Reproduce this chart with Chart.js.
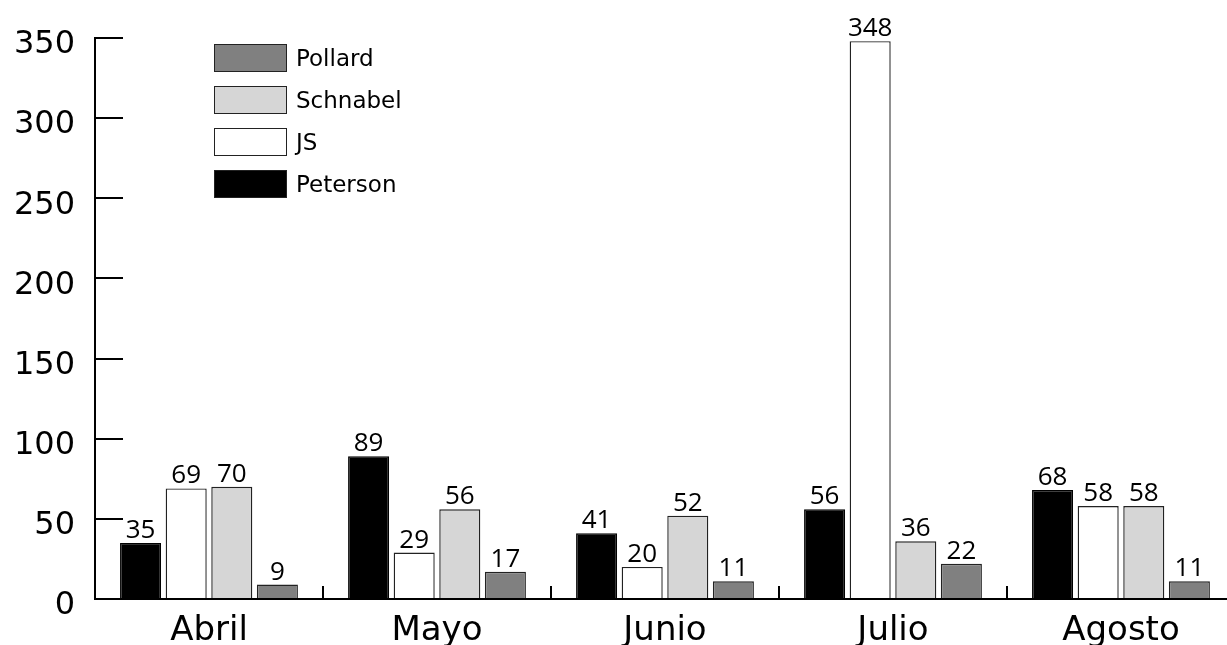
<!DOCTYPE html>
<html>
<head>
<meta charset="utf-8">
<script src="https://cdn.jsdelivr.net/npm/chart.js@4.4.0/dist/chart.umd.min.js"></script>
<style>
  html, body { margin: 0; padding: 0; background: #fff; }
  #wrap { position: relative; width: 1227px; height: 645px; }
  #legend { position: absolute; left: 214px; top: 44px; font-family: 'DejaVu Sans', sans-serif; font-size: 23px; color: #000; }
  .item { display: flex; align-items: center; height: 28px; margin-bottom: 14px; }
  .swatch { box-sizing: border-box; width: 73px; height: 28px; border: 1px solid #222; margin-right: 9px; }
</style>
</head>
<body>
<div id="wrap">
  <canvas id="chart"></canvas>
  <div id="legend"></div>
</div>
<script>
const categories = ['Abril', 'Mayo', 'Junio', 'Julio', 'Agosto'];
const peterson = [35, 89, 41, 56, 68];
const jsValues = [69, 29, 20, 348, 58];
const schnabel = [70, 56, 52, 36, 58];
const pollard = [9, 17, 11, 22, 11];
const yMax = 350;
const yStep = 50;

const toPoints = arr => arr.map((v, i) => ({ x: i, y: v }));

Chart.defaults.font.family = "'DejaVu Sans', sans-serif";
Chart.defaults.color = '#000';

// numbers above each bar
const valueLabels = {
    id: 'valueLabels',
    afterDatasetsDraw(chart) {
        const ctx = chart.ctx;
        ctx.save();
        ctx.font = "26px 'Open Sans'";
        ctx.fillStyle = '#000';
        ctx.textAlign = 'center';
        ctx.textBaseline = 'alphabetic';
        chart.data.datasets.forEach((ds, di) => {
            chart.getDatasetMeta(di).data.forEach((bar, i) => {
                ctx.fillText(ds.data[i].y, bar.x, bar.y - 5);
            });
        });
        ctx.restore();
    }
};

const chart = new Chart(document.getElementById('chart'), {
    type: 'bar',
    data: {
        datasets: [
            { label: 'Peterson', data: toPoints(peterson), backgroundColor: '#000', borderColor: '#000' },
            { label: 'JS', data: toPoints(jsValues), backgroundColor: '#fff', borderColor: '#222' },
            { label: 'Schnabel', data: toPoints(schnabel), backgroundColor: '#d6d6d6', borderColor: '#222' },
            { label: 'Pollard', data: toPoints(pollard), backgroundColor: '#808080', borderColor: '#222' }
        ]
    },
    options: {
        responsive: true,
        maintainAspectRatio: false,
        animation: false,
        categoryPercentage: 0.8,
        barPercentage: 0.9,
        borderWidth: 1.4,
        layout: { padding: { top: 38, right: 0, left: 0, bottom: 0 } },
        plugins: {
            legend: { display: false },
            tooltip: { enabled: false }
        },
        scales: {
            x: {
                type: 'linear',
                min: -0.5,
                max: 4.465,
                offset: false,
                afterBuildTicks: s => { s.ticks = categories.map((c, i) => ({ value: i })); },
                afterFit: s => { s.height = 46; s.paddingLeft = 0; s.paddingRight = 0; },
                border: { display: true, color: '#000', width: 2 },
                grid: {
                    offset: true,
                    drawOnChartArea: false,
                    drawTicks: true,
                    tickLength: -13,
                    lineWidth: 2,
                    color: '#000'
                },
                ticks: {
                    autoSkip: false,
                    maxRotation: 0,
                    padding: 25,
                    font: { size: 34 },
                    callback: v => categories[v]
                }
            },
            y: {
                min: 0,
                max: yMax,
                afterFit: s => { s.width = 95; s.paddingTop = 0; s.paddingBottom = 0; },
                border: { display: true, color: '#000', width: 2 },
                grid: {
                    drawOnChartArea: false,
                    drawTicks: true,
                    tickLength: -28,
                    lineWidth: 2,
                    color: '#000'
                },
                ticks: {
                    stepSize: yStep,
                    padding: 48,
                    labelOffset: 7,
                    font: { size: 32 }
                }
            }
        }
    },
    plugins: [valueLabels]
});

// legend, bottom series first as in the original
const legendBox = document.getElementById('legend');
chart.data.datasets.slice().reverse().forEach(ds => {
    const item = document.createElement('div');
    item.className = 'item';
    item.innerHTML = `<span class="swatch" style="background:${ds.backgroundColor}"></span><span>${ds.label}</span>`;
    legendBox.appendChild(item);
});
</script>
</body>
</html>
